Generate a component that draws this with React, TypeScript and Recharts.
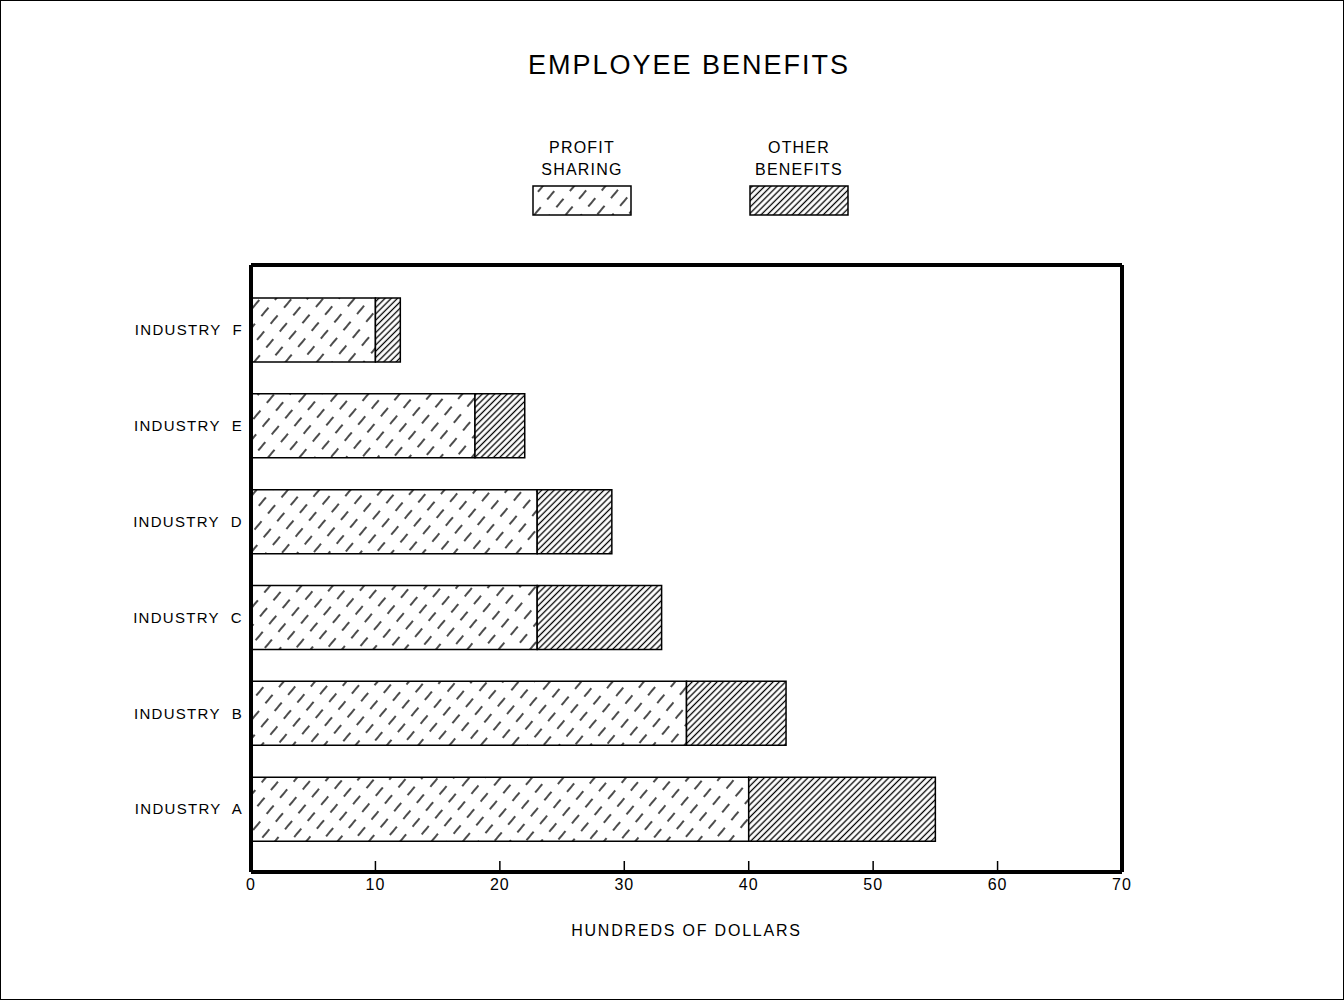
import { BarChart, Bar, XAxis, YAxis, Legend, CartesianGrid } from "recharts";

const industries = ["INDUSTRY\u00a0 F", "INDUSTRY\u00a0 E", "INDUSTRY\u00a0 D", "INDUSTRY\u00a0 C", "INDUSTRY\u00a0 B", "INDUSTRY\u00a0 A"];
const profitSharing = [10, 18, 23, 23, 35, 40];
const otherBenefits = [2, 4, 6, 10, 8, 15];
const xTicks = [0, 10, 20, 30, 40, 50, 60, 70];

const data = industries.map((name, i) => ({
  name,
  profit: profitSharing[i],
  other: otherBenefits[i],
}));

const FONT = "'Liberation Sans', Arial, sans-serif";

function Patterns({ prefix }: { prefix: string }) {
  return (
    <defs>
      <pattern id={`${prefix}-profit`} patternUnits="userSpaceOnUse" width={12} height={21} patternTransform="rotate(40)">
        <rect width={12} height={21} fill="#fff" />
        <line x1={6} y1={0} x2={6} y2={21} stroke="#000" strokeWidth={1.4} strokeDasharray="11 10" />
      </pattern>
      <pattern id={`${prefix}-other`} patternUnits="userSpaceOnUse" width={4.4} height={10} patternTransform="rotate(45)">
        <rect width={4.4} height={10} fill="#fff" />
        <line x1={2.2} y1={0} x2={2.2} y2={10} stroke="#000" strokeWidth={1.3} />
      </pattern>
    </defs>
  );
}

function LegendBox() {
  const items = [
    { lines: ["PROFIT", "SHARING"], cx: 581, fill: "lg-profit" },
    { lines: ["OTHER", "BENEFITS"], cx: 798, fill: "lg-other" },
  ];
  return (
    <svg width={1344} height={230} style={{ display: "block" }}>
      <Patterns prefix="lg" />
      {items.map((it) => (
        <g key={it.fill}>
          {it.lines.map((t, j) => (
            <text key={t} x={it.cx} y={152 + j * 22} textAnchor="middle" fontSize={16} fontFamily={FONT} fill="#000" letterSpacing={1.2}>
              {t}
            </text>
          ))}
          <rect x={it.cx - 49} y={185} width={98} height={29} fill={`url(#${it.fill})`} stroke="#000" strokeWidth={1.5} />
        </g>
      ))}
    </svg>
  );
}

function XTick(props: any) {
  const { x, y, payload } = props;
  return (
    <g>
      <line x1={x} y1={y} x2={x} y2={y - 11} stroke="#000" strokeWidth={1.5} />
      <text x={x} y={y + 18} textAnchor="middle" fontSize={16} fontFamily={FONT} fill="#000" letterSpacing={1}>
        {payload.value}
      </text>
    </g>
  );
}

export default function App() {
  return (
    <div style={{ position: "absolute", left: 0, top: 0, width: 1344, height: 1000, background: "#fff", boxSizing: "border-box", border: "1px solid #000" }}>
      <div
        style={{
          position: "absolute",
          top: 49,
          left: 0,
          width: 1344,
          textAlign: "center",
          fontFamily: FONT,
          fontSize: 27,
          letterSpacing: 2,
          paddingLeft: 32,
          boxSizing: "border-box",
        }}
      >
        EMPLOYEE BENEFITS
      </div>
      <BarChart
        width={1342}
        height={998}
        data={data}
        layout="vertical"
        margin={{ top: 264, right: 221, bottom: 97, left: 0 }}
        barSize={64}
      >
        <Patterns prefix="ch" />
        <CartesianGrid
          stroke="#000"
          strokeWidth={4}
          fill="none"
          horizontalCoordinatesGenerator={({ offset }: any) => [offset.top, offset.top + offset.height]}
          verticalCoordinatesGenerator={({ offset }: any) => [offset.left, offset.left + offset.width]}
        />
        <XAxis
          type="number"
          domain={[0, 70]}
          ticks={xTicks}
          tickSize={0}
          tickMargin={0}
          tickLine={false}
          tick={<XTick />}
          axisLine={{ stroke: "#000", strokeWidth: 4 }}
          height={30}
          label={{ value: "HUNDREDS OF DOLLARS", position: "bottom", offset: 23, fill: "#000", fontSize: 16, fontFamily: FONT, letterSpacing: 1.8 }}
        />
        <YAxis
          type="category"
          dataKey="name"
          width={250}
          tickLine={false}
          tickMargin={2}
          tickSize={6}
          padding={{ top: 17, bottom: 15 }}
          axisLine={{ stroke: "#000", strokeWidth: 4 }}
          tick={{ fill: "#000", fontSize: 15, fontFamily: FONT, letterSpacing: 1.3 }}
        />
        <Legend
          layout="horizontal"
          verticalAlign="middle"
          align="center"
          wrapperStyle={{ top: 0, left: 0, width: 1344, height: 230 }}
          content={() => <LegendBox />}
        />
        <Bar dataKey="profit" stackId="s" fill="url(#ch-profit)" stroke="#000" strokeWidth={1.5} isAnimationActive={false} />
        <Bar dataKey="other" stackId="s" fill="url(#ch-other)" stroke="#000" strokeWidth={1.5} isAnimationActive={false} />
      </BarChart>
    </div>
  );
}
